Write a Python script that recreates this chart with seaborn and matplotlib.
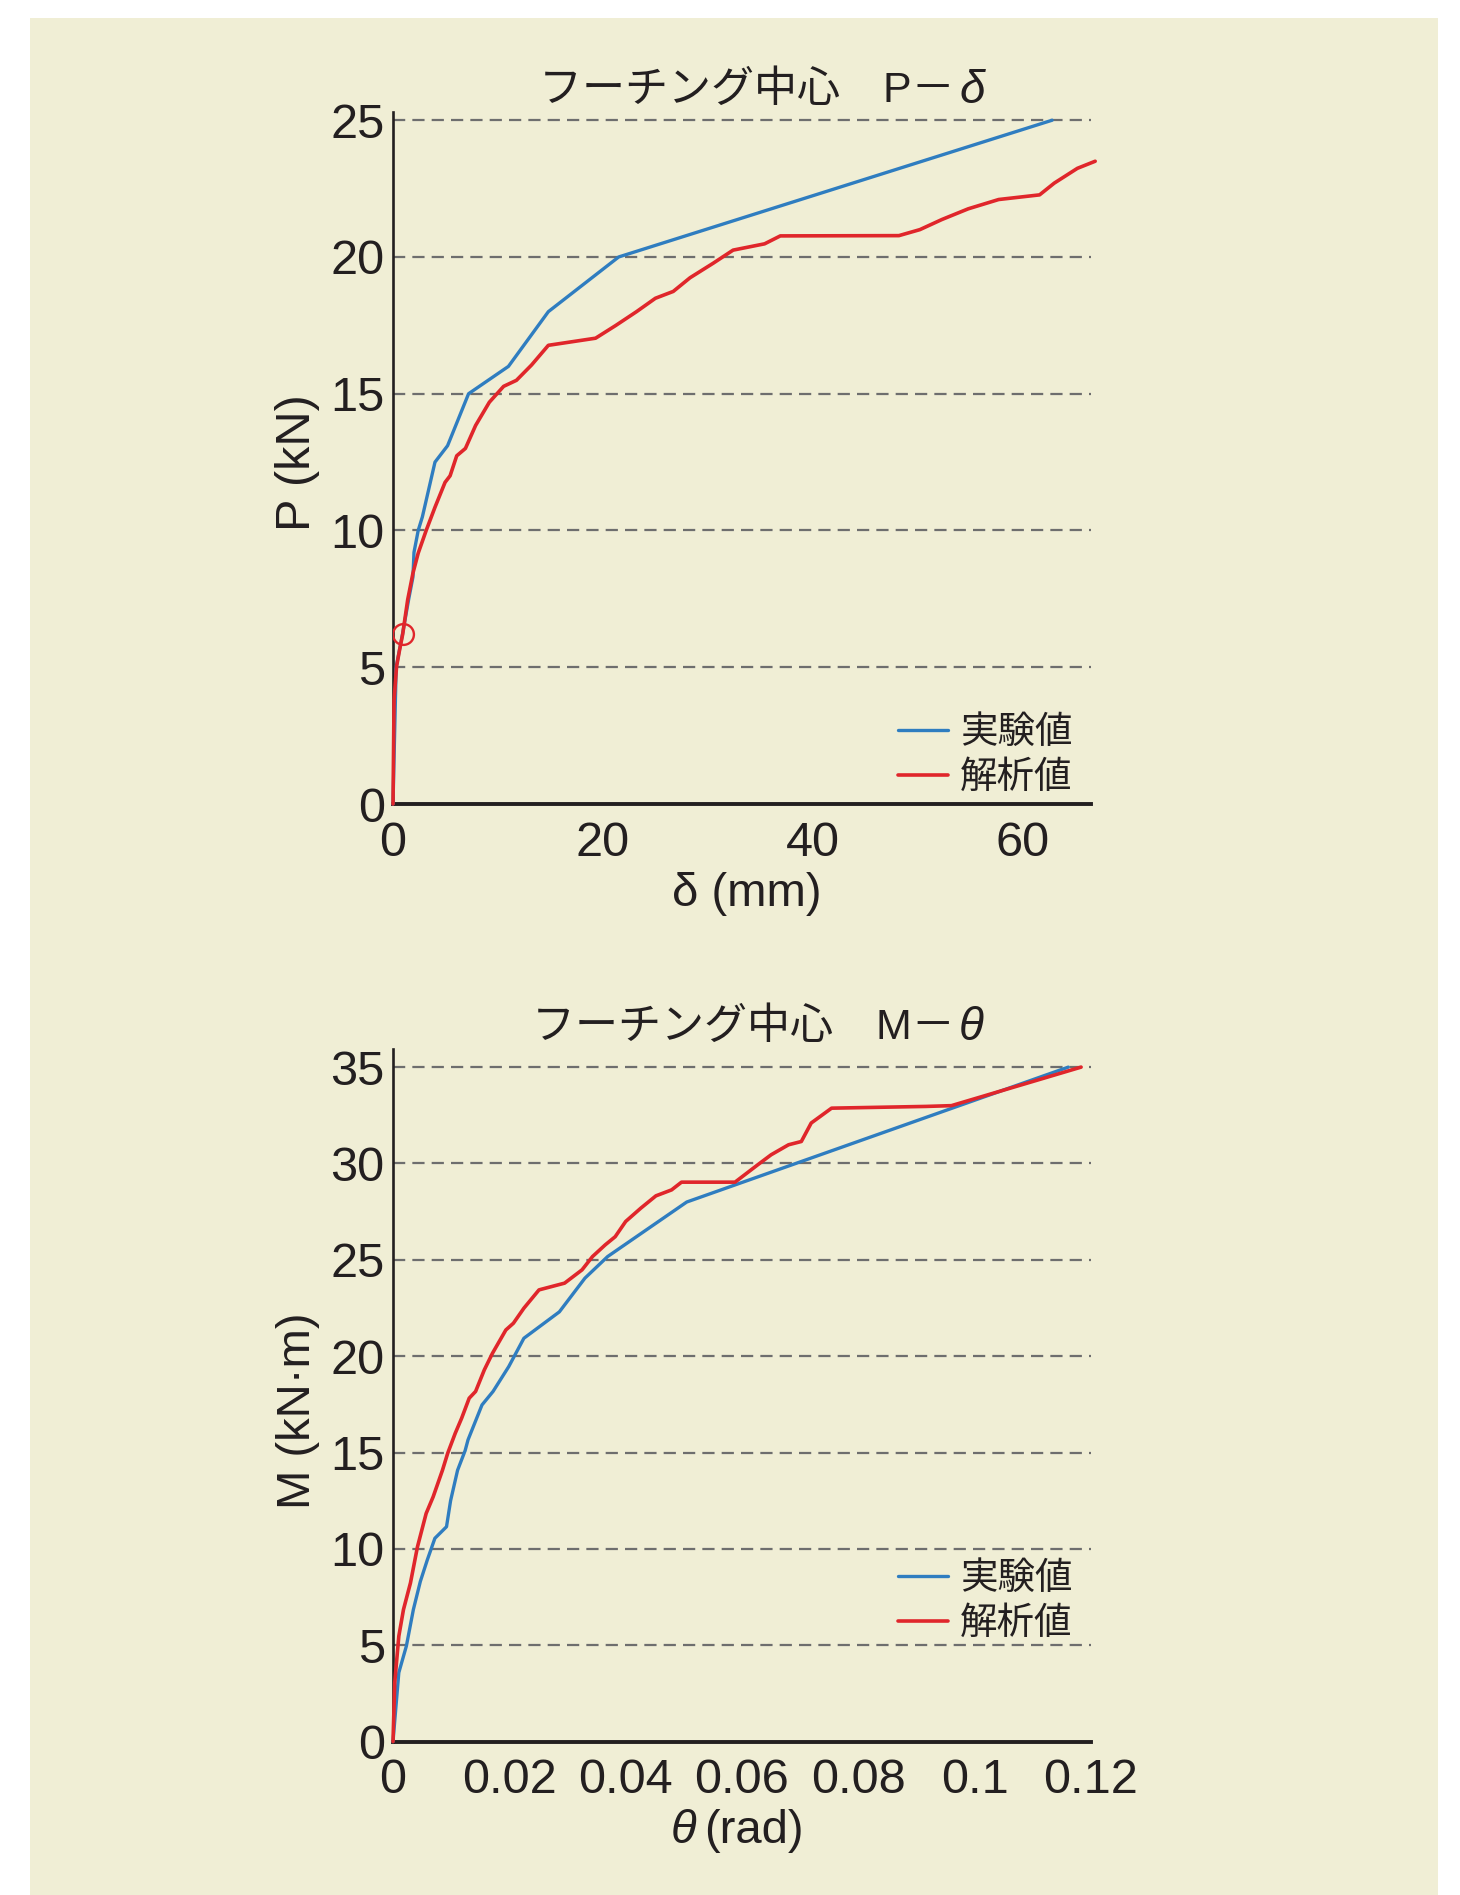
import matplotlib.pyplot as plt
import matplotlib.patches as mpatches
import seaborn as sns
import pandas as pd

# --- P-δ (top chart) ---
exp_delta = [0, 0.3, 0.9, 1.5, 1.9, 2.0, 2.4, 2.8, 4.0, 5.2, 7.2, 11.0, 14.8, 21.5, 62.8]
exp_p = [0, 5.0, 6.2, 7.5, 8.3, 9.2, 10.0, 10.5, 12.5, 13.1, 15.0, 16.0, 18.0, 20.0, 25.0]
ana_delta = [0, 0.1, 0.34, 0.63, 0.92, 1.4, 1.9, 2.4, 3.16, 4.0, 4.96, 5.44, 6.07, 6.9,
             7.87, 9.18, 10.54, 11.76, 13.2, 14.8, 19.3, 21.2, 23.2, 25.0, 26.7, 28.3,
             30.5, 32.4, 35.4, 36.9, 48.2, 50.2, 52.3, 54.8, 57.7, 61.6, 63.0, 65.2, 66.9]
ana_p = [0, 3.8, 5.03, 5.64, 6.2, 7.47, 8.44, 9.17, 10.0, 10.85, 11.76, 12.0, 12.73, 13.0,
         13.84, 14.69, 15.27, 15.49, 16.05, 16.77, 17.03, 17.49, 18.0, 18.49, 18.74, 19.24,
         19.77, 20.25, 20.48, 20.77, 20.78, 21.0, 21.37, 21.76, 22.1, 22.27, 22.7, 23.24, 23.5]
marker_delta = [0.92]
marker_p = [6.2]

# --- M-θ (bottom chart) ---
exp_theta = [0, 0.001, 0.0023, 0.0035, 0.0047, 0.0059, 0.0072, 0.0092, 0.0099, 0.0111,
             0.0124, 0.0129, 0.0153, 0.0172, 0.0199, 0.0225, 0.0286, 0.033, 0.0369, 0.0505, 0.1161]
exp_m = [0, 3.58, 4.96, 6.85, 8.31, 9.43, 10.55, 11.15, 12.5, 14.08,
         15.1, 15.66, 17.47, 18.17, 19.46, 20.93, 22.3, 24.05, 25.17, 28.0, 35.0]
ana_theta = [0, 0.0003, 0.001, 0.0018, 0.003, 0.0042, 0.0057, 0.0069, 0.0085, 0.0094,
             0.0107, 0.0118, 0.0131, 0.0142, 0.0157, 0.0171, 0.0194, 0.0207, 0.0225, 0.0251,
             0.0295, 0.0325, 0.0343, 0.0365, 0.0382, 0.04, 0.0426, 0.0452, 0.0479, 0.0496,
             0.0588, 0.0627, 0.065, 0.068, 0.0702, 0.0719, 0.0754, 0.0916, 0.096, 0.1183]
ana_m = [0, 3.06, 5.47, 6.85, 8.23, 10.1, 11.84, 12.7, 14.08, 14.96,
         16.0, 16.78, 17.82, 18.17, 19.29, 20.15, 21.36, 21.71, 22.49, 23.44,
         23.79, 24.48, 25.17, 25.78, 26.2, 26.99, 27.68, 28.32, 28.63, 29.03,
         29.03, 29.93, 30.45, 30.97, 31.14, 32.1, 32.87, 32.96, 33.0, 35.0]

top_xticks = [0, 20, 40, 60]
top_yticks = [0, 5, 10, 15, 20, 25]
bot_xticks = [0, 0.02, 0.04, 0.06, 0.08, 0.10, 0.12]
bot_xticklabels = ["0", "0.02", "0.04", "0.06", "0.08", "0.1", "0.12"]
bot_yticks = [0, 5, 10, 15, 20, 25, 30, 35]

label_exp = "実験値"
label_ana = "解析値"

BLUE = "#2f7dc0"
RED = "#e0262b"
INK = "#231f20"
CREAM = "#f0eed5"

sns.set_theme(style="white")
plt.rcParams['font.family'] = ['Liberation Sans', 'Noto Sans CJK JP', 'DejaVu Sans']
plt.rcParams['text.color'] = INK
plt.rcParams['xtick.color'] = INK
plt.rcParams['ytick.color'] = INK

fig = plt.figure(figsize=(14.6, 18.95), dpi=100, facecolor="white")
fig.patches.append(mpatches.Rectangle((30 / 1460, 0), 1408 / 1460, 1 - 18 / 1895,
                                      transform=fig.transFigure, facecolor=CREAM,
                                      edgecolor="none", zorder=-10))

ax1 = fig.add_axes([393 / 1460, 1 - 804 / 1895, 698 / 1460, 692 / 1895])
ax2 = fig.add_axes([393 / 1460, 1 - 1741.6 / 1895, 698 / 1460, 692.6 / 1895])


def style_axes(ax, xticks, xticklabels, yticks, xmax, ymax):
    ax.set_facecolor("none")
    ax.set_xlim(0, xmax)
    ax.set_ylim(0, ymax)
    ax.set_xticks(xticks)
    ax.set_xticklabels(xticklabels)
    ax.set_yticks(yticks)
    ax.tick_params(axis='both', length=0, labelsize=35)
    ax.tick_params(axis='y', pad=6)
    ax.tick_params(axis='x', pad=12)
    for s in ['top', 'right']:
        ax.spines[s].set_visible(False)
    ax.spines['left'].set_color(INK)
    ax.spines['left'].set_linewidth(1.9)
    ax.spines['bottom'].set_color(INK)
    ax.spines['bottom'].set_linewidth(2.8)
    ax.grid(axis='y', color="#6e6e6e", linewidth=1.6, linestyle=(0, (5.5, 3.2)))
    ax.grid(axis='x', visible=False)
    ax.set_xlabel("")
    ax.set_ylabel("")


# top chart
df_exp1 = pd.DataFrame({"x": exp_delta, "y": exp_p})
df_ana1 = pd.DataFrame({"x": ana_delta, "y": ana_p})
sns.lineplot(data=df_exp1, x="x", y="y", sort=False, estimator=None, color=BLUE,
             linewidth=2.4, label=label_exp, ax=ax1, zorder=3, clip_on=False)
sns.lineplot(data=df_ana1, x="x", y="y", sort=False, estimator=None, color=RED,
             linewidth=2.6, label=label_ana, ax=ax1, zorder=4, clip_on=False)
ax1.plot(marker_delta, marker_p, marker="o", markersize=15, markerfacecolor="none",
         markeredgecolor=RED, markeredgewidth=1.7, linestyle="none", zorder=5)
style_axes(ax1, top_xticks, [str(t) for t in top_xticks], top_yticks, 66.5, 25.3)

# bottom chart
df_exp2 = pd.DataFrame({"x": exp_theta, "y": exp_m})
df_ana2 = pd.DataFrame({"x": ana_theta, "y": ana_m})
sns.lineplot(data=df_exp2, x="x", y="y", sort=False, estimator=None, color=BLUE,
             linewidth=2.4, label=label_exp, ax=ax2, zorder=3, clip_on=False)
sns.lineplot(data=df_ana2, x="x", y="y", sort=False, estimator=None, color=RED,
             linewidth=2.6, label=label_ana, ax=ax2, zorder=4, clip_on=False)
style_axes(ax2, bot_xticks, bot_xticklabels, bot_yticks, 0.12, 35.94)

for ax, ly in ((ax1, -0.016), (ax2, 0.117)):
    ax.legend(loc="lower right", bbox_to_anchor=(1.0, ly), frameon=False,
              fontsize=27, handlelength=1.35, handletextpad=0.3, labelspacing=0.24,
              borderpad=0.0)

# titles (italic symbol appended)
fig.text(955 / 1460, 1 - 91 / 1895, "フーチング中心　P－", fontsize=31, ha="right", va="center")
fig.text(959 / 1460, 1 - 91 / 1895, "δ", style="italic", fontsize=33, ha="left", va="center")
fig.text(955 / 1460, 1 - 1028 / 1895, "フーチング中心　M－", fontsize=31, ha="right", va="center")
fig.text(959 / 1460, 1 - 1028 / 1895, "θ", style="italic", fontsize=33, ha="left", va="center")

# y labels
fig.text(298 / 1460, 1 - 463 / 1895, "P (kN)", fontsize=35, rotation=90, ha="center", va="center")
fig.text(298 / 1460, 1 - 1411 / 1895, "M (kN·m)", fontsize=34, rotation=90, ha="center", va="center")

# x labels
ax1.text(0.507, -0.13, "δ (mm)", fontsize=34, ha="center", va="center", transform=ax1.transAxes)
ax2.text(0.435, -0.129, "θ", style="italic", fontsize=34, ha="right", va="center",
         transform=ax2.transAxes)
ax2.text(0.446, -0.129, "(rad)", fontsize=34, ha="left", va="center", transform=ax2.transAxes)

plt.savefig("out.png", dpi=100, facecolor="white")
